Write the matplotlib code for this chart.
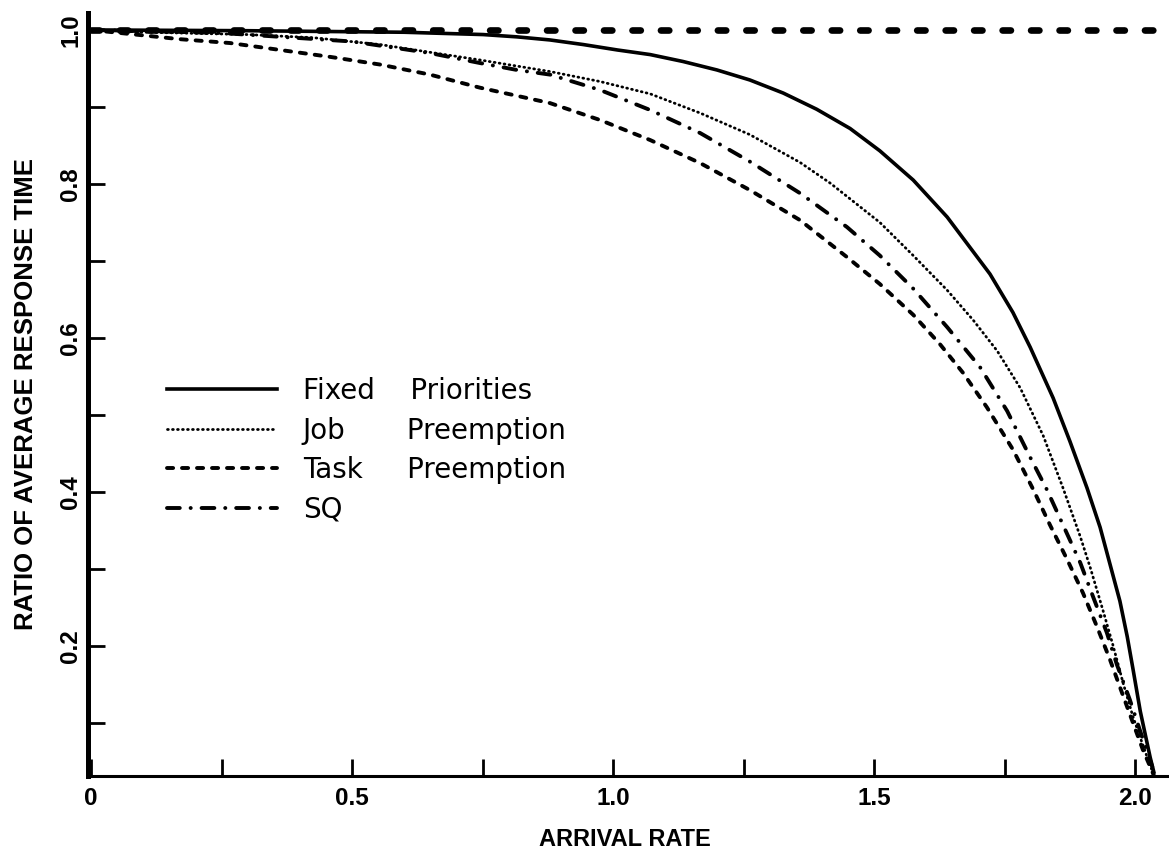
import matplotlib
matplotlib.use('Agg')
import matplotlib.pyplot as plt
from matplotlib.ticker import MultipleLocator

plt.rcParams['lines.scale_dashes'] = False

# values
fixed_x = [0.0, 0.3, 0.6, 0.751, 0.816, 0.879, 0.943, 1.008, 1.071, 1.134, 1.199, 1.262, 1.326, 1.39,
           1.454, 1.511, 1.575, 1.64, 1.722, 1.766, 1.799, 1.843, 1.875, 1.908, 1.933, 1.952, 1.971,
           1.985, 1.996, 2.01, 2.029, 2.036]
fixed_y = [1.0, 0.999, 0.997, 0.994, 0.991, 0.987, 0.981, 0.974, 0.968, 0.959, 0.948, 0.935, 0.918, 0.897,
           0.872, 0.843, 0.805, 0.757, 0.683, 0.633, 0.588, 0.522, 0.466, 0.405, 0.354, 0.306, 0.258,
           0.212, 0.170, 0.115, 0.055, 0.036]

job_x = [0.0, 0.107, 0.299, 0.425, 0.554, 0.649, 0.745, 0.879, 0.975, 1.071, 1.167, 1.262, 1.358, 1.416,
         1.511, 1.575, 1.64, 1.69, 1.736, 1.78, 1.824, 1.862, 1.895, 1.914, 1.939, 1.958, 1.977, 1.996,
         2.013, 2.025, 2.036]
job_y = [1.0, 0.997, 0.994, 0.990, 0.981, 0.971, 0.961, 0.946, 0.933, 0.917, 0.892, 0.864, 0.828, 0.801,
         0.750, 0.707, 0.662, 0.623, 0.583, 0.535, 0.473, 0.405, 0.342, 0.302, 0.245, 0.200, 0.152, 0.108,
         0.075, 0.052, 0.032]

task_x = [0.0, 0.042, 0.17, 0.266, 0.362, 0.458, 0.554, 0.649, 0.745, 0.879, 0.975, 1.071, 1.167, 1.262,
          1.358, 1.448, 1.511, 1.575, 1.626, 1.67, 1.716, 1.766, 1.805, 1.837, 1.87, 1.9, 1.927, 1.952,
          1.975, 1.996, 2.015, 2.029, 2.042]
task_y = [1.0, 0.997, 0.988, 0.983, 0.974, 0.965, 0.955, 0.942, 0.925, 0.905, 0.883, 0.857, 0.827, 0.792,
          0.753, 0.705, 0.670, 0.630, 0.592, 0.555, 0.510, 0.455, 0.403, 0.357, 0.312, 0.269, 0.225, 0.182,
          0.139, 0.100, 0.065, 0.043, 0.022]

sq_x = [0.0, 0.25, 0.5, 0.649, 0.745, 0.816, 0.879, 0.975, 1.071, 1.167, 1.262, 1.358, 1.448, 1.511,
        1.575, 1.64, 1.703, 1.755, 1.799, 1.831, 1.862, 1.895, 1.92, 1.946, 1.965, 1.99, 2.01, 2.033]
sq_y = [1.0, 0.996, 0.985, 0.970, 0.957, 0.948, 0.942, 0.922, 0.896, 0.866, 0.829, 0.788, 0.744, 0.707,
        0.664, 0.614, 0.562, 0.505, 0.445, 0.403, 0.357, 0.308, 0.263, 0.217, 0.176, 0.130, 0.089, 0.043]

ref_x = [0.0, 2.04]
ref_y = [1.0, 1.0]

labels = ['Fixed    Priorities', 'Job       Preemption', 'Task     Preemption', 'SQ']
x_ticks = [0, 0.5, 1.0, 1.5, 2.0]
x_tick_labels = ['0', '0.5', '1.0', '1.5', '2.0']
y_ticks = [0.2, 0.4, 0.6, 0.8, 1.0]
y_tick_labels = ['0.2', '0.4', '0.6', '0.8', '1.0']

fig = plt.figure(figsize=(11.69, 8.57), dpi=100)
ax = fig.add_axes([88 / 1169, 1 - 776 / 857, 1 - 88 / 1169, (776 - 13) / 857])

ax.plot(ref_x, ref_y, color='black', lw=4.8, ls=(0, (6, 14.5)), dash_capstyle='round')
ax.plot(fixed_x, fixed_y, color='black', lw=2.6, solid_joinstyle='round', label=labels[0])
ax.plot(job_x, job_y, color='black', lw=2.0, ls=(0, (0.6, 3.0)), dash_capstyle='round', label=labels[1])
ax.plot(task_x, task_y, color='black', lw=2.8, ls=(0, (4.4, 6.4)), dash_capstyle='round', label=labels[2])
ax.plot(sq_x, sq_y, color='black', lw=2.8, ls=(0, (9.2, 7.8, 0.1, 7.8)), dash_capstyle='round',
        label=labels[3])

ax.set_xlim(-0.006, 2.065)
ax.set_ylim(0.031, 1.022)

for s in ['top', 'right']:
    ax.spines[s].set_visible(False)
ax.spines['left'].set_linewidth(3.6)
ax.spines['bottom'].set_linewidth(2.2)

ax.set_xticks(x_ticks, labels=x_tick_labels)
ax.set_yticks(y_ticks, labels=y_tick_labels)
ax.xaxis.set_minor_locator(MultipleLocator(0.25))
ax.yaxis.set_minor_locator(MultipleLocator(0.1))
ax.tick_params(axis='both', which='both', direction='in', length=12, width=2, color='black')
ax.tick_params(axis='x', pad=8)
ax.tick_params(axis='y', pad=4, labelrotation=90)
for t in ax.get_xticklabels() + ax.get_yticklabels():
    t.set_fontfamily('Liberation Sans')
    t.set_fontweight('bold')
    t.set_fontsize(17.5)
for t in ax.get_yticklabels():
    t.set_va('center')

ax.set_xlabel('ARRIVAL RATE', fontfamily='Liberation Sans', fontweight='bold', fontsize=17, va='top')
ax.xaxis.set_label_coords(0.497, -0.068)
ax.set_ylabel('RATIO OF AVERAGE RESPONSE TIME', fontfamily='Liberation Sans', fontweight='bold',
              fontsize=18.5)
ax.yaxis.set_label_coords(-0.046, 0.5)

ax.legend(loc='center left', bbox_to_anchor=(0.073, 0.427), frameon=False,
          prop={'family': 'DejaVu Sans', 'size': 20}, handlelength=3.96, handletextpad=0.93,
          labelspacing=0.41, borderpad=0, borderaxespad=0)

fig.savefig('out.png', dpi=100)
